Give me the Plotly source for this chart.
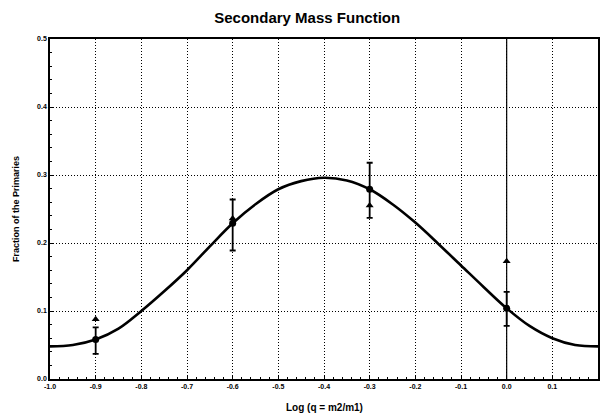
import plotly.graph_objects as go

# Fitted curve
curve_x = [-1.0, -0.95, -0.9, -0.85, -0.8, -0.75, -0.7, -0.65, -0.6, -0.55, -0.5, -0.45,
           -0.4, -0.35, -0.3, -0.25, -0.2, -0.15, -0.1, -0.05, 0.0, 0.05, 0.1, 0.15, 0.2]
curve_y = [0.048, 0.050, 0.058, 0.074, 0.100, 0.129, 0.160, 0.195, 0.229, 0.257, 0.279, 0.291,
           0.296, 0.292, 0.279, 0.257, 0.230, 0.199, 0.167, 0.135, 0.104, 0.078, 0.060, 0.050, 0.048]

# Observed fractions with error bars
obs_x = [-0.9, -0.6, -0.3, 0.0]
obs_y = [0.058, 0.229, 0.279, 0.104]
err_plus = [0.018, 0.035, 0.039, 0.024]
err_minus = [0.021, 0.040, 0.042, 0.026]

# Second set (triangles)
tri_x = [-0.9, -0.6, -0.3, 0.0]
tri_y = [0.088, 0.236, 0.255, 0.173]

# Vertical reference line
vline_x = 0.0
y_range = [0.0, 0.5]

x_ticks = [-1.0, -0.9, -0.8, -0.7, -0.6, -0.5, -0.4, -0.3, -0.2, -0.1, 0.0, 0.1, 0.2]
x_labels = ["-1.0", "-0.9", "-0.8", "-0.7", "-0.6", "-0.5", "-0.4", "-0.3", "-0.2", "-0.1", "0.0", "0.1", "0.2"]
y_ticks = [0.0, 0.1, 0.2, 0.3, 0.4, 0.5]
y_labels = ["0.0", "0.1", "0.2", "0.3", "0.4", "0.5"]

FONT = "Liberation Sans, Arial, sans-serif"

fig = go.Figure()

fig.add_trace(go.Scatter(x=[vline_x, vline_x], y=y_range, mode="lines",
                         line=dict(color="black", width=1.2), hoverinfo="skip", showlegend=False))

fig.add_trace(go.Scatter(x=curve_x, y=curve_y, mode="lines", line_shape="spline",
                         line=dict(color="black", width=2.6), showlegend=False))

fig.add_trace(go.Scatter(x=tri_x, y=tri_y, mode="markers",
                         marker=dict(symbol="triangle-up", size=7, color="black"), showlegend=False))

fig.add_trace(go.Scatter(x=obs_x, y=obs_y, mode="markers",
                         marker=dict(symbol="circle", size=7, color="black"),
                         error_y=dict(type="data", symmetric=False, array=err_plus, arrayminus=err_minus,
                                      color="black", thickness=1.8, width=3),
                         showlegend=False))

axis_common = dict(
    tickfont=dict(family=FONT, size=7, color="black"),
    showgrid=True, gridcolor="black", griddash="1px,2px", gridwidth=1,
    showline=True, linecolor="black", linewidth=1.5, mirror=True,
    ticks="inside", ticklen=3, tickcolor="black",
    minor=dict(dtick=0.02, ticks="inside", ticklen=2, tickcolor="black", showgrid=False),
    zeroline=False, automargin=False,
)

fig.update_layout(
    width=600, height=417,
    margin=dict(l=50, r=2, t=39, b=38),
    paper_bgcolor="white", plot_bgcolor="white",
    title=dict(text="<b>Secondary Mass Function</b>", x=0.512, xanchor="center",
               y=0.957, yanchor="middle", yref="container",
               font=dict(family=FONT, size=15, color="black")),
    xaxis=dict(range=[-1.0, 0.2], tickvals=x_ticks, ticktext=[f"<b>{t}</b>" for t in x_labels],
               **axis_common),
    yaxis=dict(range=y_range, tickvals=y_ticks, ticktext=[f"<b>{t}</b>" for t in y_labels],
               **axis_common),
    annotations=[
        dict(text="<b>Log (q = m2/m1)</b>", xref="paper", yref="paper", x=0.5, y=-0.085,
             xanchor="center", yanchor="middle", showarrow=False,
             font=dict(family=FONT, size=10, color="black")),
        dict(text="<b>Fraction of the Primaries</b>", xref="paper", yref="paper", x=-0.062, y=0.5,
             xanchor="center", yanchor="middle", textangle=-90, showarrow=False,
             font=dict(family=FONT, size=9, color="black")),
    ],
)

fig.write_html("out.html", config={"displayModeBar": False},
               post_script="document.body.style.margin='0';document.body.style.overflow='hidden';")
